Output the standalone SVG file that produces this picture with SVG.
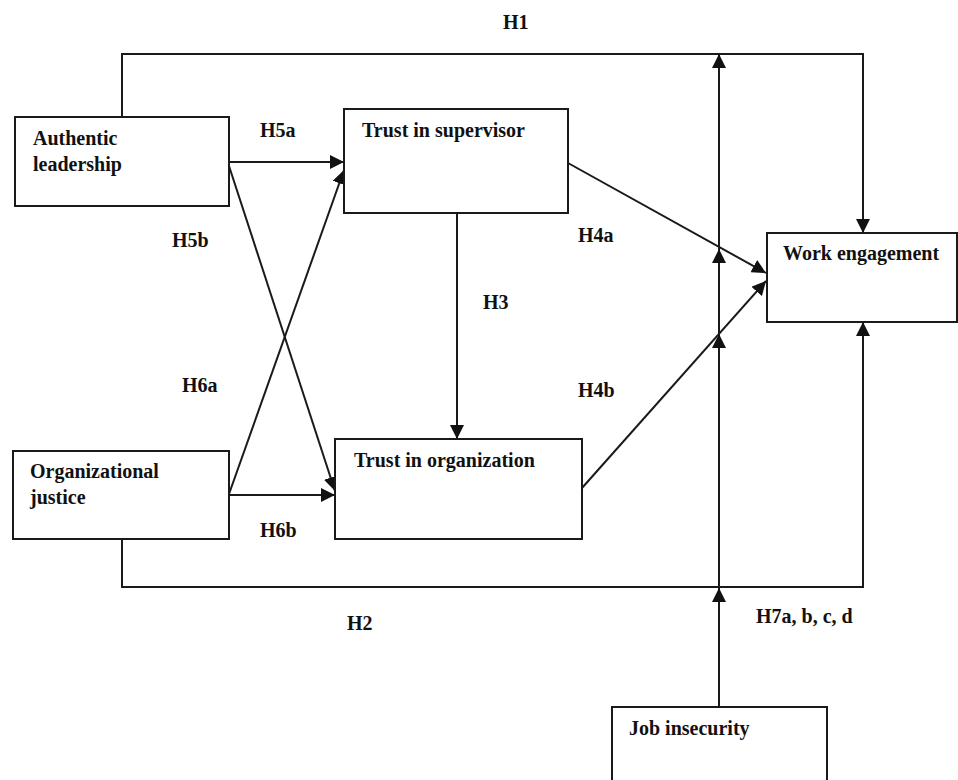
<svg xmlns="http://www.w3.org/2000/svg" width="958" height="780" viewBox="0 0 958 780">
<style>
.box{fill:#fff;stroke:#1a1a1a;stroke-width:2}
.t{font-family:"Liberation Serif","Times New Roman",serif;font-weight:bold;font-size:20px;fill:#111}
.c{fill:none;stroke:#1a1a1a;stroke-width:2}
.a{marker-end:url(#arr)}
</style>
<defs>
<marker id="arr" markerUnits="userSpaceOnUse" markerWidth="14" markerHeight="14" refX="14" refY="7" orient="auto">
<path d="M0,0 L14,7 L0,14 z" fill="#111"/>
</marker>
</defs>
<g id="connectors">
<path class="c a" d="M122,117 V54 H863 V233"/>
<path class="c a" d="M122,539 V587 H863 V322"/>
<path class="c a" d="M719,707 V588"/>
<path class="c a" d="M719,588 V334"/>
<path class="c a" d="M719,334 V249"/>
<path class="c a" d="M719,249 V54"/>
<path class="c a" d="M229,162 H344"/>
<path class="c a" d="M229,166 L335,491"/>
<path class="c a" d="M229,494 L344,170"/>
<path class="c a" d="M229,495 H335"/>
<path class="c a" d="M457,213 V439"/>
<path class="c a" d="M568,163 L766,273"/>
<path class="c a" d="M582,488 L766,281"/>
</g>
<g id="labels">
<text class="t" x="503" y="29">H1</text>
<text class="t" x="260" y="137">H5a</text>
<text class="t" x="172" y="247">H5b</text>
<text class="t" x="483" y="309">H3</text>
<text class="t" x="578" y="242">H4a</text>
<text class="t" x="182" y="392">H6a</text>
<text class="t" x="578" y="397">H4b</text>
<text class="t" x="260" y="537">H6b</text>
<text class="t" x="347" y="630">H2</text>
<text class="t" x="756" y="623">H7a, b, c, d</text>
</g>
<g id="authentic-leadership">
<rect class="box" x="15" y="117" width="214" height="89"/>
<text class="t" x="33" y="145">Authentic</text>
<text class="t" x="33" y="171">leadership</text>
</g>
<g id="trust-in-supervisor">
<rect class="box" x="344" y="109" width="224" height="104"/>
<text class="t" x="362" y="137">Trust in supervisor</text>
</g>
<g id="work-engagement">
<rect class="box" x="767" y="233" width="190" height="89"/>
<text class="t" x="783" y="260">Work engagement</text>
</g>
<g id="trust-in-organization">
<rect class="box" x="335" y="439" width="247" height="100"/>
<text class="t" x="354" y="467">Trust in organization</text>
</g>
<g id="organizational-justice">
<rect class="box" x="13" y="451" width="216" height="88"/>
<text class="t" x="30" y="478">Organizational</text>
<text class="t" x="30" y="504">justice</text>
</g>
<g id="job-insecurity">
<rect class="box" x="612" y="707" width="215" height="80"/>
<text class="t" x="629" y="735">Job insecurity</text>
</g>
</svg>
